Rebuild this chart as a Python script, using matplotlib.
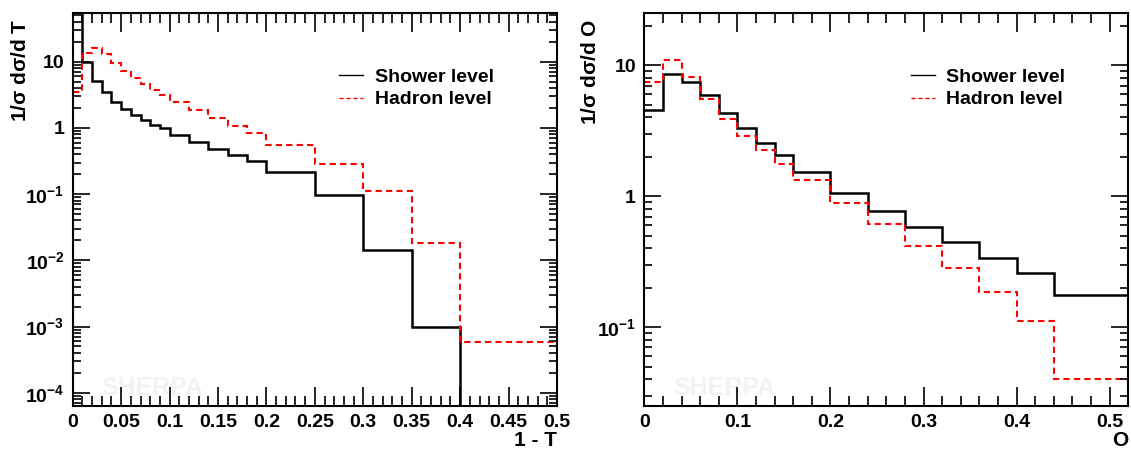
import numpy as np
import matplotlib
matplotlib.use("Agg")
import matplotlib.pyplot as plt
from matplotlib.lines import Line2D
from matplotlib.ticker import MultipleLocator, LogLocator, FuncFormatter

plt.rcParams["font.family"] = ["Liberation Sans", "DejaVu Sans"]
plt.rcParams["font.weight"] = "bold"
plt.rcParams["mathtext.fontset"] = "custom"
plt.rcParams["mathtext.rm"] = "Liberation Sans:bold"
plt.rcParams["mathtext.bf"] = "Liberation Sans:bold"
plt.rcParams["mathtext.default"] = "bf"

# thrust (1 - T)
thrust_edges = [0, 0.01, 0.02, 0.03, 0.04, 0.05, 0.06, 0.07, 0.08, 0.09, 0.10,
                0.12, 0.14, 0.16, 0.18, 0.20, 0.25, 0.30, 0.35, 0.40, 0.50]
thrust_shower = [70, 10.0, 5.2, 3.46, 2.47, 1.94, 1.57, 1.31, 1.11, 1.0,
                 0.784, 0.615, 0.482, 0.391, 0.314, 0.214, 0.096, 0.0141, 0.001, 1e-6]
thrust_hadron = [3.46, 13.8, 16.4, 13.3, 9.7, 7.36, 5.69, 4.62, 3.8, 3.15,
                 2.5, 1.87, 1.42, 1.07, 0.85, 0.561, 0.286, 0.112, 0.0183, 5.93e-4]

# oblateness O
obl_edges = [0, 0.02, 0.04, 0.06, 0.08, 0.10, 0.12, 0.14, 0.16, 0.20, 0.24,
             0.28, 0.32, 0.36, 0.40, 0.44, 0.52]
obl_shower = [4.54, 8.52, 7.53, 5.89, 4.36, 3.31, 2.56, 2.05, 1.52, 1.06,
              0.778, 0.583, 0.445, 0.336, 0.26, 0.177]
obl_hadron = [7.4, 10.96, 8.18, 5.49, 3.86, 2.87, 2.24, 1.76, 1.32, 0.895,
              0.613, 0.415, 0.282, 0.185, 0.111, 0.0399]

labels = ["Shower level", "Hadron level"]
fs = 14


def log_label(v, pos):
    e = int(round(np.log10(v)))
    if e == 0:
        return "1"
    if e == 1:
        return "10"
    return r"$10^{%d}$" % e


def lin_label(v, pos):
    return "0" if abs(v) < 1e-9 else "%g" % v


def style_axis(ax, xmajor, xminor):
    for s in ax.spines.values():
        s.set_linewidth(1.5)
    ax.set_yscale("log")
    ax.xaxis.set_major_locator(MultipleLocator(xmajor))
    ax.xaxis.set_minor_locator(MultipleLocator(xminor))
    ax.xaxis.set_major_formatter(FuncFormatter(lin_label))
    ax.yaxis.set_major_locator(LogLocator(base=10, numticks=20))
    ax.yaxis.set_minor_locator(LogLocator(base=10, subs=np.arange(2, 10), numticks=20))
    ax.yaxis.set_major_formatter(FuncFormatter(log_label))
    ax.yaxis.set_minor_formatter(FuncFormatter(lambda v, p: ""))
    ax.tick_params(which="both", direction="in", top=True, right=True,
                   labelsize=fs, width=1.2, pad=6)
    ax.tick_params(axis="x", which="major", length=14)
    ax.tick_params(axis="x", which="minor", length=7)
    ax.tick_params(axis="y", which="major", length=12)
    ax.tick_params(axis="y", which="minor", length=6)


def draw_panel(ax, edges, shower, hadron):
    ax.stairs(shower, edges, baseline=None, color="black", lw=1.8)
    ax.stairs(hadron, edges, baseline=None, color="red", lw=1.5, ls=(0, (3, 2)))
    ax.text(0.06, 0.045, "SHERPA", transform=ax.transAxes, fontsize=18,
            fontweight="bold", color="#f2f2f2", ha="left", va="center", zorder=0)
    handles = [Line2D([], [], color="black", lw=1),
               Line2D([], [], color="red", lw=1, ls=(0, (3, 2)))]
    ax.legend(handles, labels, loc="upper left", bbox_to_anchor=(0.55, 0.86),
              frameon=False, fontsize=fs, handlelength=1.25, handletextpad=0.6,
              labelspacing=0.25, borderaxespad=0, borderpad=0)


fig = plt.figure(figsize=(11.31, 4.55), dpi=100)
ax1 = fig.add_axes([0.0643, 0.1077, 0.4282, 0.8631])
ax2 = fig.add_axes([0.5697, 0.1077, 0.4279, 0.8631])

draw_panel(ax1, thrust_edges, thrust_shower, thrust_hadron)
ax1.set_xlim(0, 0.5)
ax1.set_ylim(6.3e-5, 54)
style_axis(ax1, 0.05, 0.01)
ax1.set_ylabel(r"1/$\mathregular{\sigma}$ d$\mathregular{\sigma}$/d T", fontsize=15,
               fontweight="bold", loc="top")
ax1.yaxis.set_label_coords(-0.088, 0.987)
ax1.set_xlabel("1 - T", fontsize=15, fontweight="bold", loc="right", labelpad=0)

draw_panel(ax2, obl_edges, obl_shower, obl_hadron)
ax2.set_xlim(0, 0.52)
ax2.set_ylim(0.025, 25)
style_axis(ax2, 0.1, 0.02)
ax2.set_ylabel(r"1/$\mathregular{\sigma}$ d$\mathregular{\sigma}$/d O", fontsize=15,
               fontweight="bold", loc="top")
ax2.yaxis.set_label_coords(-0.0915, 0.987)
ax2.set_xlabel("O", fontsize=15, fontweight="bold", loc="right", labelpad=0)

fig.savefig("out.png", dpi=100)
